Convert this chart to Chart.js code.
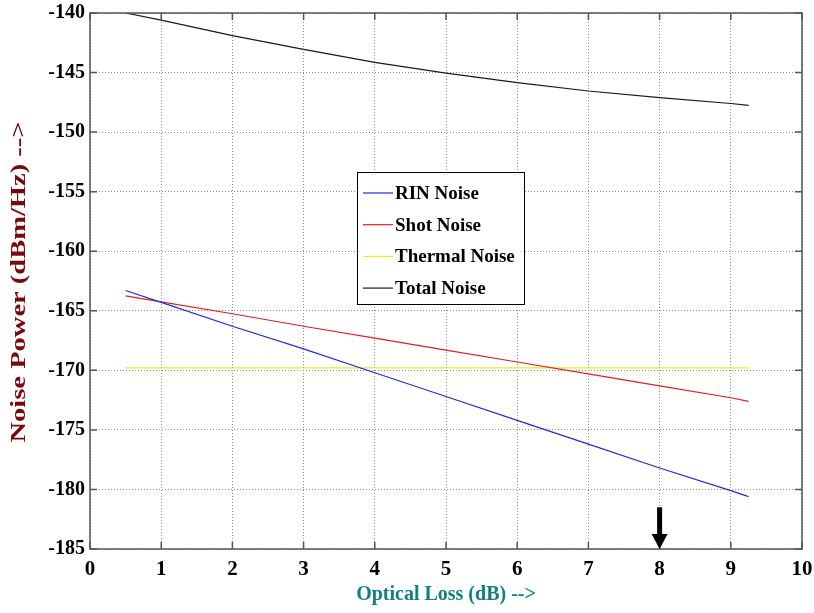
<!DOCTYPE html>
<html>
<head>
<meta charset="utf-8">
<script src="https://cdn.jsdelivr.net/npm/chart.js@4/dist/chart.umd.min.js"></script>
<style>
  html, body { margin: 0; padding: 0; background: #fff; }
  #wrap { width: 814px; height: 613px; }
</style>
</head>
<body>
<div id="wrap"><canvas id="chart" width="814" height="613"></canvas></div>
<script>
const lossDb = [0.5, 1, 2, 3, 4, 5, 6, 7, 8, 9, 9.25];
const rinNoise = [-163.3, -164.3, -166.3, -168.2, -170.2, -172.2, -174.2, -176.2, -178.2, -180.1, -180.6];
const shotNoise = [-163.75, -164.25, -165.25, -166.3, -167.3, -168.3, -169.3, -170.3, -171.3, -172.3, -172.6];
const thermalNoise = [-169.8, -169.8, -169.8, -169.8, -169.8, -169.8, -169.8, -169.8, -169.8, -169.8, -169.8];
const totalNoise = [-140.0, -140.6, -141.9, -143.05, -144.15, -145.05, -145.85, -146.55, -147.1, -147.6, -147.75];
const seriesLabels = ["RIN Noise", "Shot Noise", "Thermal Noise", "Total Noise"];
const yTitle = "Noise Power (dBm/Hz) -->";
const markerLoss = 8;

const serif = "'Liberation Serif', 'Times New Roman', serif";

function points(ys) {
  return lossDb.map((x, i) => ({ x: x, y: ys[i] }));
}

function series(label, ys, color) {
  return {
    label: label,
    data: points(ys),
    borderColor: color,
    backgroundColor: color,
    borderWidth: 1.2,
    pointRadius: 0,
    tension: 0,
    fill: false,
  };
}

// frame, inward tick marks, legend box, y title and the arrow at 8 dB
const decorations = {
  id: "decorations",
  afterDatasetsDraw(chart) {
    const { ctx, chartArea: a, scales } = chart;
    const xs = scales.x, ys = scales.y;
    ctx.save();

    ctx.strokeStyle = "#555";
    ctx.lineWidth = 1.5;
    ctx.strokeRect(a.left, a.top, a.right - a.left, a.bottom - a.top);

    ctx.beginPath();
    xs.ticks.forEach((t) => {
      const px = xs.getPixelForValue(t.value);
      ctx.moveTo(px, a.bottom); ctx.lineTo(px, a.bottom - 7);
      ctx.moveTo(px, a.top); ctx.lineTo(px, a.top + 7);
    });
    ys.ticks.forEach((t) => {
      const py = ys.getPixelForValue(t.value);
      ctx.moveTo(a.left, py); ctx.lineTo(a.left + 7, py);
      ctx.moveTo(a.right, py); ctx.lineTo(a.right - 7, py);
    });
    ctx.stroke();

    // legend
    const box = { x: 357, y: 172, w: 167, h: 132 };
    ctx.fillStyle = "#fff";
    ctx.fillRect(box.x, box.y, box.w, box.h);
    ctx.strokeStyle = "#000";
    ctx.lineWidth = 1;
    ctx.strokeRect(box.x + 0.5, box.y + 0.5, box.w, box.h);
    ctx.font = "bold 19px " + serif;
    ctx.textBaseline = "middle";
    chart.data.datasets.forEach((ds, i) => {
      const cy = box.y + 21 + i * 31.7;
      ctx.strokeStyle = ds.borderColor;
      ctx.lineWidth = 1.2;
      ctx.beginPath();
      ctx.moveTo(box.x + 6, cy);
      ctx.lineTo(box.x + 36, cy);
      ctx.stroke();
      ctx.fillStyle = "#000";
      ctx.fillText(ds.label, box.x + 38, cy + 1);
    });

    // y title, stretched along its length like the original
    ctx.save();
    ctx.translate(20, (a.top + a.bottom) / 2 + 1);
    ctx.rotate(-Math.PI / 2);
    ctx.font = "bold 21px " + serif;
    const w = ctx.measureText(yTitle).width;
    ctx.scale(321 / w, 1);
    ctx.fillStyle = "#7a0a0a";
    ctx.textAlign = "center";
    ctx.textBaseline = "middle";
    ctx.fillText(yTitle, 0, 0);
    ctx.restore();

    // arrow
    const ax = xs.getPixelForValue(markerLoss);
    const top = ys.getPixelForValue(-181.5);
    const tip = ys.getPixelForValue(-185);
    ctx.fillStyle = "#000";
    ctx.fillRect(ax - 2.5, top, 5, tip - top - 12);
    ctx.beginPath();
    ctx.moveTo(ax - 8, tip - 15);
    ctx.lineTo(ax + 8, tip - 15);
    ctx.lineTo(ax, tip);
    ctx.closePath();
    ctx.fill();

    ctx.restore();
  },
};

new Chart(document.getElementById("chart"), {
  type: "line",
  data: {
    datasets: [
      series(seriesLabels[0], rinNoise, "#2828d8"),
      series(seriesLabels[1], shotNoise, "#e02020"),
      series(seriesLabels[2], thermalNoise, "#f0e820"),
      series(seriesLabels[3], totalNoise, "#1a1a1a"),
    ],
  },
  options: {
    responsive: false,
    animation: false,
    layout: { padding: { top: 13, right: 12, left: 0, bottom: 0 } },
    plugins: {
      legend: { display: false },
      tooltip: { enabled: false },
    },
    scales: {
      x: {
        type: "linear",
        min: 0,
        max: 10,
        ticks: {
          stepSize: 1,
          color: "#000",
          padding: 8,
          font: { family: serif, size: 21, weight: "bold" },
        },
        grid: { color: "#8a8a8a", lineWidth: 1, drawTicks: false },
        border: { display: false, dash: [1, 2] },
        title: {
          display: true,
          text: "Optical Loss (dB) -->",
          color: "#0f8080",
          font: { family: serif, size: 20, weight: "bold" },
          padding: { top: 6, bottom: 6 },
        },
        afterFit(scale) {
          scale.height = 64;
          scale.paddingLeft = 0;
          scale.paddingRight = 0;
        },
      },
      y: {
        type: "linear",
        min: -185,
        max: -140,
        ticks: {
          stepSize: 5,
          color: "#000",
          padding: 5,
          font: { family: serif, size: 20, weight: "bold" },
        },
        grid: { color: "#8a8a8a", lineWidth: 1, drawTicks: false },
        border: { display: false, dash: [1, 2] },
        title: { display: false },
        afterFit(scale) {
          scale.width = 90;
          scale.paddingTop = 0;
          scale.paddingBottom = 0;
        },
      },
    },
  },
  plugins: [decorations],
});
</script>
</body>
</html>
